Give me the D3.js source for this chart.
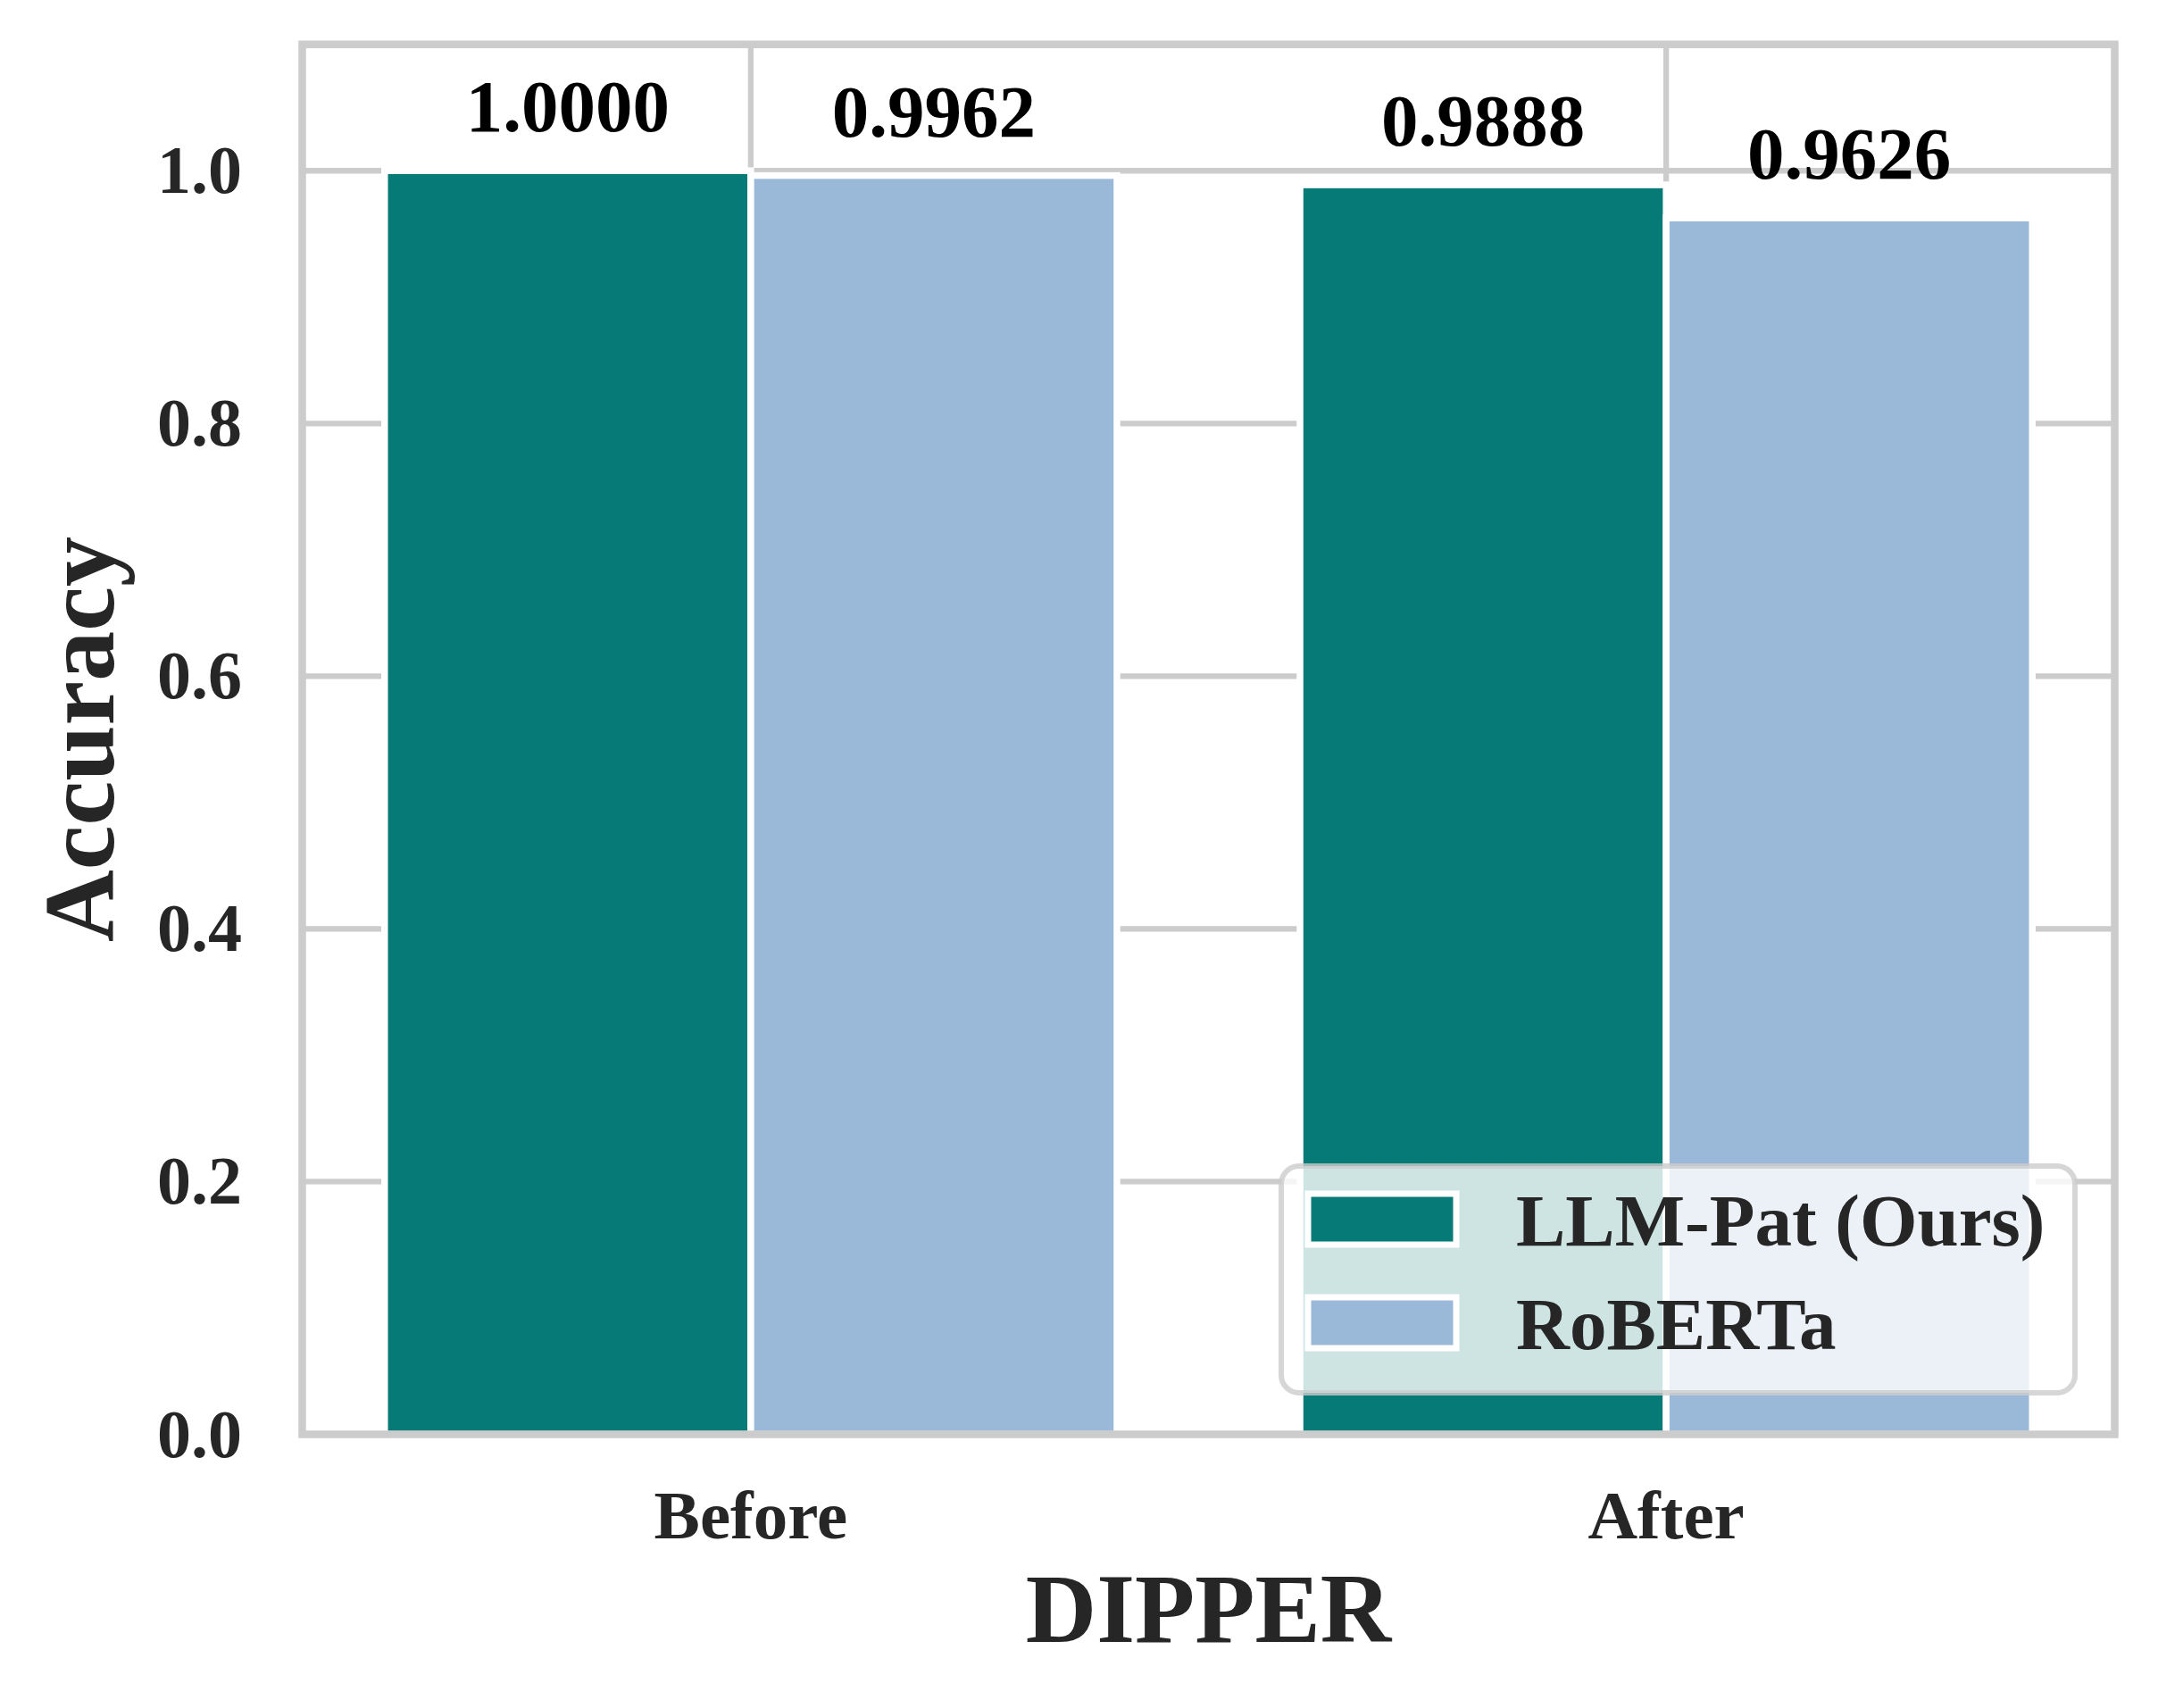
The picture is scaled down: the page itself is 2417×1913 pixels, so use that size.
<!DOCTYPE html>
<html>
<head>
<meta charset="utf-8">
<script src="https://cdn.jsdelivr.net/npm/d3@7"></script>
<style>
  html, body { margin: 0; padding: 0; background: #ffffff; }
  svg text { font-family: "Liberation Serif", "Times New Roman", Times, serif; font-weight: bold; }
</style>
</head>
<body>
<svg id="chart" width="2417" height="1913"></svg>
<script>
// ---- data ----
const categories = ["Before", "After"];
const seriesNames = ["LLM-Pat (Ours)", "RoBERTa"];
const llmPatValues = [1.0000, 0.9888];
const robertaValues = [0.9962, 0.9626];
const yTicks = [0.0, 0.2, 0.4, 0.6, 0.8, 1.0];
const xLabel = "DIPPER";
const yLabel = "Accuracy";
const seriesColors = ["#067a76", "#9ab9d8"];

// ---- layout ----
const svg = d3.select("#chart");
const plot = { left: 338.5, right: 2368.5, top: 49.7, bottom: 1606.5 };
const x = d3.scaleLinear().domain([-0.49, 1.49]).range([plot.left, plot.right]);
const y = d3.scaleLinear().domain([0, 1.1]).range([plot.bottom, plot.top]);
const grid = "#cccccc";
const textCol = "#262626";
const barW = 0.4;

svg.append("rect").attr("width", 2417).attr("height", 1913).attr("fill", "#fff");

// gridlines
const g = svg.append("g");
g.selectAll("line.hg").data(yTicks.filter(d => d > 0)).enter().append("line")
  .attr("x1", plot.left).attr("x2", plot.right)
  .attr("y1", d => y(d)).attr("y2", d => y(d))
  .attr("stroke", grid).attr("stroke-width", 6.3);
g.selectAll("line.vg").data(categories).enter().append("line")
  .attr("x1", (d, i) => x(i)).attr("x2", (d, i) => x(i))
  .attr("y1", plot.top).attr("y2", plot.bottom)
  .attr("stroke", grid).attr("stroke-width", 6.3);

// bars
const series = [llmPatValues, robertaValues];
const barData = [];
series.forEach((vals, s) => vals.forEach((v, i) => barData.push({ s, i, v })));
const offset = s => (s === 0 ? -barW : 0);
svg.append("g").selectAll("rect").data(barData).enter().append("rect")
  .attr("x", d => x(d.i + offset(d.s)))
  .attr("width", d => x(barW) - x(0))
  .attr("y", d => y(d.v))
  .attr("height", d => y(0) - y(d.v))
  .attr("fill", d => seriesColors[d.s])
  .attr("stroke", "#ffffff").attr("stroke-width", 7.5);

// spines
svg.append("rect")
  .attr("x", plot.left).attr("y", plot.top)
  .attr("width", plot.right - plot.left).attr("height", plot.bottom - plot.top)
  .attr("fill", "none").attr("stroke", grid).attr("stroke-width", 8.5);

// value labels
svg.append("g").selectAll("text").data(barData).enter().append("text")
  .attr("x", d => x(d.i + offset(d.s) + barW / 2))
  .attr("y", d => y(d.v) - 44)
  .attr("text-anchor", "middle")
  .attr("font-size", 83)
  .attr("fill", "#000")
  .text(d => d.v.toFixed(4));

// y ticks
svg.append("g").selectAll("text").data(yTicks).enter().append("text")
  .attr("x", 271).attr("y", d => y(d) + 25)
  .attr("text-anchor", "end").attr("font-size", 76).attr("fill", textCol)
  .text(d => d.toFixed(1));

// x ticks
svg.append("g").selectAll("text").data(categories).enter().append("text")
  .attr("x", (d, i) => x(i)).attr("y", 1723)
  .attr("text-anchor", "middle").attr("font-size", 77).attr("fill", textCol)
  .text(d => d);

// axis labels
svg.append("text").attr("x", (plot.left + plot.right) / 2).attr("y", 1839)
  .attr("text-anchor", "middle").attr("font-size", 110).attr("fill", textCol)
  .text(xLabel);
svg.append("text")
  .attr("transform", `translate(126.5, ${(plot.top + plot.bottom) / 2}) rotate(-90)`)
  .attr("text-anchor", "middle").attr("font-size", 112).attr("fill", textCol)
  .text(yLabel);

// legend
const lg = svg.append("g");
lg.append("rect").attr("x", 1435).attr("y", 1306).attr("width", 889).attr("height", 254)
  .attr("rx", 20).attr("ry", 20)
  .attr("fill", "rgba(255,255,255,0.8)")
  .attr("stroke", "rgba(204,204,204,0.8)").attr("stroke-width", 6);
const items = lg.selectAll("g.item").data(seriesNames).enter().append("g")
  .attr("transform", (d, i) => `translate(0, ${i * 116})`);
items.append("rect").attr("x", 1465).attr("y", 1337).attr("width", 166).attr("height", 57)
  .attr("fill", (d, i) => seriesColors[i]).attr("stroke", "#fff").attr("stroke-width", 7);
items.append("text").attr("x", 1698).attr("y", 1395)
  .attr("font-size", 83).attr("fill", textCol).text(d => d);
</script>
</body>
</html>
